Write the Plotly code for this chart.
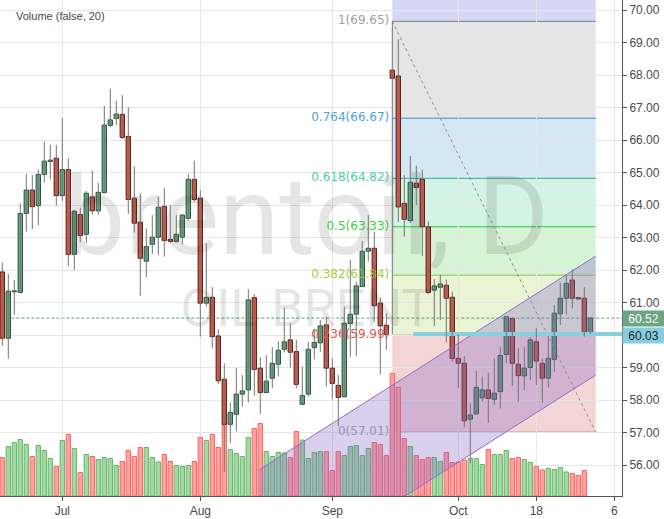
import numpy as np
import pandas as pd
import plotly.graph_objects as go

# daily bars, 17 Jun 2019 .. 31 Oct 2019 (one per weekday)
opens = [61.94, 59.90, 61.33, 61.31, 63.74, 64.46, 63.98, 64.94, 65.34, 65.44,
         64.29, 65.09, 62.48, 63.71, 63.10, 64.25, 63.82, 64.38, 66.45, 66.66,
         66.79, 66.11, 64.21, 63.47, 62.27, 62.79, 63.01, 63.96, 62.94, 62.88,
         63.01, 63.59, 64.79, 64.21, 60.98, 61.16, 59.97, 58.64, 57.25, 57.56,
         58.18, 58.31, 61.15, 58.98, 58.23, 58.67, 59.10, 59.56, 59.85, 59.49,
         57.87, 58.18, 59.61, 59.76, 60.31, 58.98, 58.45, 58.10, 60.36, 60.64,
         61.49, 62.58, 62.67, 60.98, 60.30, 68.15, 67.97, 64.05, 63.52, 64.67,
         64.79, 63.33, 61.38, 61.47, 61.53, 61.16, 59.28, 59.13, 57.41, 57.57,
         58.07, 58.31, 58.02, 58.26, 59.40, 60.51, 59.10, 58.74, 59.00, 59.79,
         59.13, 58.67, 59.25, 60.65, 61.13, 61.69, 61.15, 61.13, 60.05]
highs = [62.23, 61.88, 61.69, 64.05, 64.95, 64.92, 65.09, 65.95, 65.85, 65.85,
         66.67, 65.44, 63.85, 63.92, 64.43, 65.06, 64.68, 67.05, 67.57, 67.20,
         67.38, 67.01, 65.18, 64.36, 63.28, 63.69, 64.25, 64.52, 64.00, 63.69,
         63.72, 64.95, 65.36, 64.46, 62.82, 61.47, 60.17, 59.13, 57.92, 58.98,
         58.77, 61.41, 61.26, 59.31, 59.38, 59.62, 59.82, 60.84, 60.36, 59.85,
         59.03, 59.79, 60.15, 60.46, 60.56, 59.28, 58.77, 60.87, 62.31, 61.64,
         62.89, 63.69, 63.18, 61.15, 60.67, 69.65, 69.10, 64.92, 65.51, 65.21,
         65.09, 63.49, 61.72, 61.85, 61.71, 61.33, 60.00, 59.35, 57.90, 58.90,
         58.72, 58.84, 59.28, 59.64, 60.58, 60.53, 59.59, 59.64, 59.93, 60.21,
         59.28, 59.97, 60.92, 61.61, 61.85, 62.02, 61.18, 61.47, 60.55]
lows = [59.66, 59.27, 60.62, 61.28, 63.18, 63.26, 63.38, 64.69, 64.79, 63.98,
        64.13, 62.12, 62.00, 62.85, 62.83, 63.71, 63.70, 64.36, 66.39, 66.46,
        66.03, 63.73, 63.15, 61.21, 61.78, 62.49, 62.46, 62.41, 62.82, 62.84,
        62.79, 63.52, 64.10, 59.95, 60.87, 59.59, 58.49, 55.79, 56.67, 57.03,
        57.79, 57.93, 58.13, 57.57, 58.22, 58.36, 58.72, 59.46, 59.00, 58.36,
        57.86, 58.10, 59.25, 59.49, 58.41, 58.02, 57.20, 58.08, 59.33, 59.35,
        61.49, 62.26, 60.41, 58.79, 59.54, 60.03, 63.48, 63.03, 63.45, 64.00,
        62.43, 61.25, 60.28, 60.46, 59.77, 59.18, 58.36, 57.16, 56.07, 57.57,
        57.95, 57.30, 57.85, 57.74, 59.13, 58.43, 57.95, 58.31, 58.62, 58.46,
        57.92, 58.39, 58.87, 60.31, 60.62, 60.82, 61.08, 59.95, 60.03]
closes = [59.90, 61.35, 61.36, 63.74, 64.46, 63.95, 64.94, 65.35, 65.38, 64.29,
          65.09, 62.48, 63.81, 63.06, 64.36, 63.82, 64.39, 66.46, 66.62, 66.80,
          66.08, 64.17, 63.44, 62.36, 62.72, 63.01, 63.93, 62.91, 62.88, 63.10,
          63.69, 64.79, 64.17, 60.98, 61.16, 59.95, 58.59, 57.25, 57.62, 58.18,
          58.28, 61.08, 58.94, 58.23, 58.58, 59.13, 59.53, 59.79, 59.47, 58.48,
          58.14, 59.56, 59.77, 60.28, 58.98, 58.51, 58.08, 60.36, 60.64, 61.51,
          62.58, 62.67, 60.90, 60.28, 60.02, 67.90, 63.94, 63.56, 64.70, 64.54,
          63.33, 61.31, 61.51, 61.57, 61.13, 59.28, 59.13, 57.36, 57.54, 58.39,
          58.31, 58.05, 58.21, 59.37, 60.56, 59.13, 58.75, 58.98, 59.85, 59.20,
          58.67, 59.28, 60.67, 61.13, 61.59, 61.13, 61.11, 60.08, 60.52]
# volume, thousands of contracts (last bar has no volume yet)
volumes = [77, 99, 107, 113, 103, 79, 101, 91, 75, 59,
           111, 123, 95, 47, 83, 79, 73, 77, 75, 61,
           69, 91, 79, 97, 97, 77, 68, 83, 69, 61,
           59, 61, 69, 117, 111, 123, 97, 145, 93, 85,
           79, 117, 135, 145, 89, 79, 87, 86, 77, 129,
           112, 75, 87, 89, 89, 51, 89, 81, 99, 101,
           81, 95, 107, 103, 81, 245, 217, 115, 99, 81,
           73, 77, 77, 69, 87, 67, 68, 72, 75, 75,
           63, 93, 83, 83, 91, 75, 77, 73, 67, 59,
           52, 55, 53, 57, 48, 45, 41, 51, None]

tick_dates = ["2019-07-01", "2019-08-01", "2019-09-02", "2019-10-01", "2019-10-18", "2019-11-06"]
tick_labels = ["Jul", "Aug", "Sep", "Oct", "18", "6"]

# fibonacci retracement drawing
fib_ratios = ["0", "0.236", "0.382", "0.5", "0.618", "0.764", "1", "1.618"]
fib_prices = [57.01, 59.99, 61.84, 63.33, 64.82, 66.67, 69.65, 77.46]
fib_span = [65, 98.9]
# parallel channel drawing
channel_x = [42.8, 98.9]
channel_upper = [55.85, 62.43]
channel_lower = [52.19, 58.77]
# horizontal ray
ray_x = [68.5, 120]
ray_price = 60.03

dates = pd.bdate_range("2019-06-17", "2019-11-15")
bar_x = np.arange(len(closes))
tick_x = [dates.get_loc(pd.Timestamp(d)) for d in tick_dates]

band_colors = ["#f4d5d5", "#e9f4d4", "#d5f3d5", "#d3f3e7", "#d3e7f4", "#e5e5e5", "#d6d6f5"]
line_colors = ["#8c8c8c", "#d9362e", "#8cc63c", "#2cc72c", "#2db38b", "#3b8fc6", "#7d7d7d"]
label_colors = ["#a8a8a8", "#e25a55", "#a6cf3e", "#3ccf3c", "#4ccfa2", "#4fa3d9", "#a0a0a0"]

up = [i for i in bar_x if closes[i] >= opens[i]]
down = [i for i in bar_x if closes[i] < opens[i]]

fig = go.Figure()

# volume pane (base axis, drawn under the price traces)
for idx, fill, edge in [(up, "#a7d7a9", "#5fb865"), (down, "#ffa2a2", "#ff6363")]:
    fig.add_trace(
        go.Bar(
            x=[bar_x[i] for i in idx if volumes[i] is not None],
            y=[volumes[i] for i in idx if volumes[i] is not None],
            width=0.72,
            marker=dict(color=fill, line=dict(color=edge, width=1)),
            yaxis="y",
            hoverinfo="skip",
        )
    )

# watermark
fig.add_trace(
    go.Scatter(
        x=[50.7, 50.7],
        y=[63.32, 60.68],
        mode="text",
        text=["brentoil, D", "OIL BRENT"],
        textposition="middle center",
        textfont=dict(family="Roboto", size=[109, 52], color="rgba(0,0,0,0.1)"),
        yaxis="y2",
        hoverinfo="skip",
    )
)

# fib labels
fig.add_trace(
    go.Scatter(
        x=[fib_span[0] - 0.5] * 7,
        y=fib_prices[:7],
        mode="text",
        text=[f"{r}({p:.2f})" for r, p in zip(fib_ratios[:7], fib_prices[:7])],
        textposition="middle left",
        textfont=dict(family="Verdana, DejaVu Sans", size=12, color=label_colors),
        yaxis="y2",
        hoverinfo="skip",
    )
)

# parallel channel
fig.add_trace(
    go.Scatter(
        x=channel_x + channel_x[::-1],
        y=channel_upper + channel_lower[::-1],
        fill="toself",
        fillcolor="rgba(128,100,200,0.3)",
        mode="lines",
        line=dict(width=0),
        yaxis="y2",
        hoverinfo="skip",
    )
)
for edge in (channel_upper, channel_lower):
    fig.add_trace(
        go.Scatter(
            x=channel_x, y=edge, mode="lines",
            line=dict(color="#8f6cc9", width=1),
            yaxis="y2", hoverinfo="skip",
        )
    )

# fib trend line
fig.add_trace(
    go.Scatter(
        x=fib_span, y=[fib_prices[6], fib_prices[0]], mode="lines",
        line=dict(color="#8c8c8c", width=1, dash="3px,3px"),
        yaxis="y2", hoverinfo="skip",
    )
)

# horizontal ray
fig.add_trace(
    go.Scatter(
        x=ray_x, y=[ray_price, ray_price], mode="lines",
        line=dict(color="#87cfe1", width=4),
        yaxis="y2", hoverinfo="skip",
    )
)

# candle wicks
wick_x, wick_y = [], []
for i in bar_x:
    wick_x += [i, i, None]
    wick_y += [lows[i], highs[i], None]
fig.add_trace(
    go.Scatter(
        x=wick_x, y=wick_y, mode="lines",
        line=dict(color="#737375", width=1),
        yaxis="y2", hoverinfo="skip",
    )
)

# candle bodies
for idx, fill, edge in [(up, "#6ba583", "#225437"), (down, "#d75442", "#5b1a13")]:
    fig.add_trace(
        go.Bar(
            x=[bar_x[i] for i in idx],
            y=[max(abs(closes[i] - opens[i]), 0.02) for i in idx],
            base=[min(opens[i], closes[i]) for i in idx],
            width=0.72,
            marker=dict(color=fill, line=dict(color=edge, width=1)),
            yaxis="y2",
            hoverinfo="skip",
        )
    )

shapes = []
for k in range(len(fib_prices) - 1):
    shapes.append(dict(
        type="rect", xref="x", yref="y2", layer="below",
        x0=fib_span[0], x1=fib_span[1], y0=fib_prices[k], y1=fib_prices[k + 1],
        fillcolor=band_colors[k], line=dict(width=0),
    ))
for k in range(7):
    shapes.append(dict(
        type="line", xref="x", yref="y2", layer="below",
        x0=fib_span[0], x1=fib_span[1], y0=fib_prices[k], y1=fib_prices[k],
        line=dict(color=line_colors[k], width=1),
    ))
shapes.append(dict(
    type="line", xref="x", yref="y2", layer="below",
    x0=-1, x1=104, y0=closes[-1], y1=closes[-1],
    line=dict(color="#5f9c78", width=1, dash="3px,2px"),
))

x_range = [-0.383, 103.283]
fig.update_layout(
    width=664,
    height=519,
    autosize=False,
    margin=dict(l=0, r=42, t=0, b=23, pad=0),
    paper_bgcolor="white",
    plot_bgcolor="white",
    showlegend=False,
    barmode="overlay",
    shapes=shapes,
    font=dict(family="Arial, Liberation Sans", size=12, color="#4a4a4a"),
    xaxis=dict(
        range=x_range,
        tickvals=tick_x,
        ticktext=tick_labels,
        showgrid=True,
        gridcolor="#e6e6e6",
        zeroline=False,
        showline=True,
        linecolor="#555555",
        ticks="outside",
        ticklen=4,
        tickcolor="#555555",
        tickfont=dict(size=12, color="#4a4a4a"),
    ),
    yaxis=dict(range=[0, 992], visible=False, showgrid=False, fixedrange=True),
    yaxis2=dict(
        overlaying="y",
        side="right",
        range=[55.046, 70.308],
        tick0=0,
        dtick=1,
        tickformat=".2f",
        showgrid=True,
        gridcolor="#e6e6e6",
        zeroline=False,
        showline=True,
        linecolor="#555555",
        ticks="outside",
        ticklen=4,
        tickcolor="#555555",
        tickfont=dict(size=12, color="#4a4a4a"),
    ),
    annotations=[
        dict(
            text="Volume (false, 20)", xref="paper", yref="paper", x=0, y=1,
            xanchor="left", yanchor="top", xshift=14, yshift=-8, showarrow=False,
            font=dict(size=11, color="#4a4a4a"),
        ),
        dict(
            text="60.52", xref="paper", yref="y2", x=1, y=closes[-1],
            xanchor="left", yanchor="middle", showarrow=False,
            width=41, height=15, borderpad=0, bgcolor="#6ba583",
            font=dict(size=12, color="white"),
        ),
        dict(
            text="60.03", xref="paper", yref="y2", x=1, y=ray_price,
            xanchor="left", yanchor="middle", yshift=-1, showarrow=False,
            width=41, height=15, borderpad=0, bgcolor="#85cde0",
            font=dict(size=12, color="#222222"),
        ),
    ],
)

# page body margin would shift the fixed-size figure
fig.write_html(
    "out.html",
    config={"displayModeBar": False},
    post_script="document.body.style.margin = '0';",
)
